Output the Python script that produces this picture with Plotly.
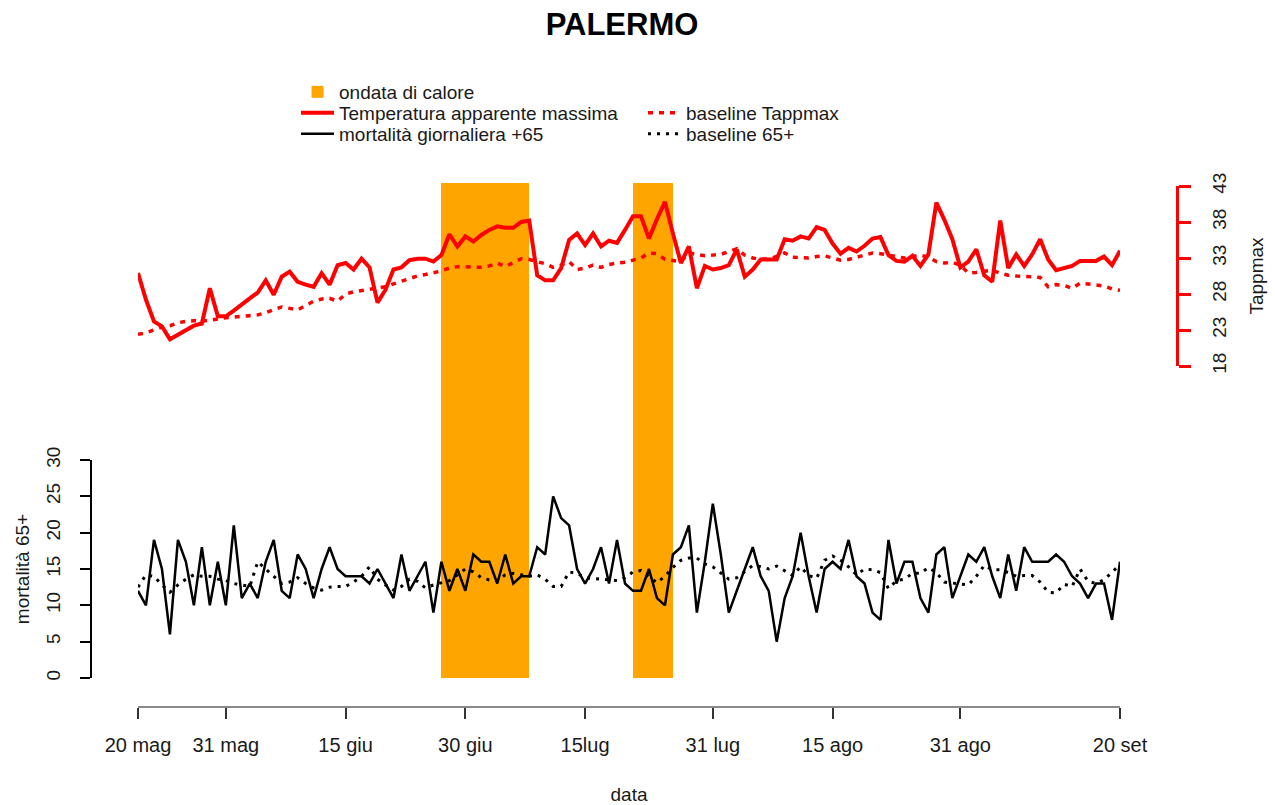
import pandas as pd
import plotly.graph_objects as go

# ---- data -------------------------------------------------------------
dates = pd.date_range("2023-05-20", "2023-09-20", freq="D")

# daily maximum apparent temperature (°C)
tapp_max = [
    30.9, 27.2, 24.2, 23.5, 21.7, 22.3, 22.9, 23.6, 23.9, 28.8,
    24.9, 24.9, 25.7, 26.6, 27.4, 28.2, 29.9, 27.9, 30.4, 31.1,
    29.7, 29.3, 29.0, 30.9, 29.3, 32.0, 32.3, 31.4, 32.9, 31.7,
    26.8, 28.6, 31.4, 31.7, 32.7, 32.9, 32.9, 32.5, 33.4, 36.3,
    34.6, 36.0, 35.3, 36.2, 36.9, 37.4, 37.2, 37.2, 38.0, 38.2,
    30.6, 29.9, 29.9, 31.6, 35.5, 36.4, 34.8, 36.4, 34.6, 35.4,
    35.1, 36.9, 38.8, 38.8, 35.7, 38.4, 40.8, 36.4, 32.3, 34.6,
    28.8, 31.9, 31.4, 31.6, 32.0, 34.2, 30.4, 31.4, 32.8, 32.8,
    32.8, 35.6, 35.4, 36.0, 35.7, 37.3, 36.9, 35.0, 33.6, 34.4,
    33.9, 34.7, 35.7, 35.9, 33.4, 32.6, 32.5, 33.3, 31.9, 33.5,
    40.7, 38.3, 35.6, 31.7, 32.5, 34.2, 30.6, 29.7, 38.2, 31.6,
    33.5, 31.9, 33.5, 35.6, 32.8, 31.3, 31.6, 31.9, 32.6, 32.6,
    32.6, 33.2, 32.0, 34.0,
]

# seasonal baseline of the apparent temperature
tapp_baseline = [
    22.4, 22.6, 23.0, 23.4, 23.6, 24.0, 24.2, 24.3, 24.2, 24.4,
    24.5, 24.7, 24.8, 24.9, 25.0, 25.1, 25.4, 25.8, 26.2, 26.0,
    25.8, 26.4, 27.0, 27.3, 27.4, 27.0, 28.0, 28.3, 28.5, 28.7,
    28.9, 29.0, 29.4, 29.8, 30.2, 30.5, 30.7, 30.9, 31.2, 31.6,
    31.8, 31.8, 31.7, 31.7, 31.9, 32.3, 31.8, 32.4, 32.9, 32.8,
    32.5, 32.2, 31.7, 32.0, 32.5, 31.4, 31.6, 32.0, 31.7, 32.1,
    32.3, 32.4, 32.7, 33.0, 33.7, 33.6, 32.8, 32.6, 32.5, 33.7,
    33.5, 33.3, 33.4, 33.5, 33.9, 34.3, 33.4, 33.0, 32.8, 32.9,
    33.2, 33.7, 33.1, 33.0, 33.0, 33.2, 33.3, 33.0, 32.7, 32.8,
    33.1, 33.3, 33.7, 33.6, 33.4, 33.1, 33.0, 33.2, 33.4, 33.1,
    32.5, 32.3, 32.4, 32.0, 30.9, 31.0, 31.2, 31.3, 30.9, 30.6,
    30.5, 30.5, 30.4, 30.3, 29.0, 29.3, 29.2, 28.8, 29.5, 29.4,
    29.2, 29.1, 28.7, 28.5,
]

# daily deaths, age 65 and over
mortality_65 = [
    12, 10, 19, 15, 6, 19, 16, 10, 18, 10,
    16, 10, 21, 11, 13, 11, 16, 19, 12, 11,
    17, 15, 11, 15, 18, 15, 14, 14, 14, 13,
    15, 13, 11, 17, 12, 14, 16, 9, 16, 12,
    15, 12, 17, 16, 16, 13, 17, 13, 14, 14,
    18, 17, 25, 22, 21, 15, 13, 15, 18, 13,
    19, 13, 12, 12, 15, 11, 10, 17, 18, 21,
    9, 16, 24, 17, 9, 12, 15, 18, 14, 12,
    5, 11, 14, 20, 14, 9, 15, 16, 15, 19,
    14, 13, 9, 8, 19, 13, 16, 16, 11, 9,
    17, 18, 11, 14, 17, 16, 18, 14, 11, 17,
    12, 18, 16, 16, 16, 17, 16, 14, 13, 11,
    13, 13, 8, 16,
]

# expected daily deaths, age 65 and over
mortality_baseline = [
    12.5, 14.2, 14.0, 12.8, 11.8, 12.8, 13.6, 14.2, 14.0, 14.0,
    13.6, 13.4, 13.0, 12.8, 12.6, 16.0, 15.0, 14.0, 13.0, 13.2,
    13.8, 13.0, 12.4, 12.1, 12.5, 12.6, 12.6, 13.2, 14.0, 15.3,
    13.6, 12.8, 12.1, 12.6, 13.6, 13.3, 12.4, 12.8, 13.1, 13.4,
    14.2, 15.0, 14.6, 13.8, 13.5, 13.4, 14.2, 14.4, 14.2, 14.0,
    14.2, 13.6, 12.6, 12.6, 14.6, 14.4, 13.8, 13.7, 13.6, 13.5,
    13.4, 13.8, 14.6, 14.8, 14.0, 13.1, 14.0, 15.2, 16.2, 16.5,
    16.5, 15.7, 15.3, 14.4, 13.6, 13.8, 14.6, 15.5, 15.3, 15.0,
    15.4, 14.8, 14.1, 15.3, 14.1, 13.7, 16.2, 16.8, 16.2, 15.3,
    14.2, 15.0, 14.9, 14.5, 12.3, 13.4, 13.6, 14.4, 14.4, 15.2,
    14.5, 13.2, 13.1, 13.0, 12.8, 14.0, 15.5, 14.9, 14.9, 14.5,
    14.0, 14.1, 14.1, 13.2, 11.8, 11.7, 12.9, 12.6, 15.0, 13.3,
    13.0, 13.5, 14.6, 15.6,
]

# heat-wave periods (start, end)
heatwave_start = ["2023-06-27", "2023-07-21"]
heatwave_end = ["2023-07-08", "2023-07-26"]

# x-axis ticks
tick_dates = ["2023-05-20", "2023-05-31", "2023-06-15", "2023-06-30",
              "2023-07-15", "2023-07-31", "2023-08-15", "2023-08-31",
              "2023-09-20"]
tick_labels = ["20 mag", "31 mag", "15 giu", "30 giu", "15lug",
               "31 lug", "15 ago", "31 ago", "20 set"]

# ---- figure -----------------------------------------------------------
W, H = 1275, 805
FONT = "Liberation Sans, Arial, Helvetica, sans-serif"
INK = "#1a1a1a"

hw_s = pd.to_datetime(heatwave_start)
hw_e = pd.to_datetime(heatwave_end)
hw_mid = hw_s + (hw_e - hw_s) / 2
hw_width = [(e - s).total_seconds() * 1000 for s, e in zip(hw_s, hw_e)]

fig = go.Figure()

fig.add_trace(go.Bar(
    x=hw_mid, y=[1] * len(hw_mid), base=0, width=hw_width,
    marker=dict(color="#FFA500", line=dict(width=0)),
    name="ondata di calore", yaxis="y", legend="legend", showlegend=True,
))
fig.add_trace(go.Scatter(
    x=dates, y=tapp_max, mode="lines", yaxis="y3",
    line=dict(color="#FF0000", width=4),
    name="Temperatura apparente massima", legend="legend2",
))
fig.add_trace(go.Scatter(
    x=dates, y=tapp_baseline, mode="lines", yaxis="y3",
    line=dict(color="#FF0000", width=3.5, dash="5px,6px"),
    name="baseline Tappmax", legend="legend2",
))
fig.add_trace(go.Scatter(
    x=dates, y=mortality_65, mode="lines", yaxis="y2",
    line=dict(color="#000000", width=2.5),
    name="mortalità giornaliera +65", legend="legend3",
))
fig.add_trace(go.Scatter(
    x=dates, y=mortality_baseline, mode="lines", yaxis="y2",
    line=dict(color="#000000", width=3, dash="3px,6px"),
    name="baseline 65+", legend="legend3",
))

# plotting region in pixels
L, R, T, B = 91, 98, 183, 98
pw, ph = W - L - R, H - T - B


def fx(px):
    return (px - L) / pw


def fy(py):
    return (H - B - py) / ph


legend_common = dict(
    xref="container", yref="container", xanchor="left", yanchor="middle",
    font=dict(family=FONT, size=19, color=INK), bgcolor="rgba(0,0,0,0)",
    itemwidth=33, tracegroupgap=0,
)
lx = 296 / W

fig.update_layout(
    width=W, height=H,
    margin=dict(l=L, r=R, t=T, b=B, autoexpand=False),
    paper_bgcolor="white", plot_bgcolor="rgba(0,0,0,0)",
    font=dict(family=FONT, size=19, color=INK),
    title=dict(text="<b>PALERMO</b>", font=dict(family=FONT, size=31, color="#000"),
               x=622 / W, xanchor="center", xref="container",
               y=1 - 24 / H, yanchor="middle", yref="container"),
    bargap=0, barmode="overlay",
    legend=dict(x=lx, y=1 - 92 / H, orientation="h", **legend_common),
    legend2=dict(x=lx, y=1 - 113 / H, orientation="h", entrywidth=299,
                 entrywidthmode="pixels", **legend_common),
    legend3=dict(x=lx, y=1 - 134 / H, orientation="h", entrywidth=299,
                 entrywidthmode="pixels", **legend_common),
    xaxis=dict(
        domain=[fx(138), fx(1120)], anchor="free", position=0,
        type="date", range=[dates[0], dates[-1]],
        tickmode="array", tickvals=tick_dates, ticktext=tick_labels,
        showline=True, linecolor="#8a8a8a", linewidth=2,
        ticks="outside", ticklen=11, tickwidth=1.5, tickcolor="#333",
        showgrid=False, zeroline=False, ticklabelstandoff=9, tickangle=0,
        tickfont=dict(family=FONT, size=20, color=INK),
        title=dict(text="data", font=dict(family=FONT, size=19, color=INK), standoff=37),
    ),
    # axis holding the heat-wave bands
    yaxis=dict(domain=[fy(678), 1], range=[0, 1], visible=False,
               anchor="free", position=0, fixedrange=True),
    # mortality axis (left)
    yaxis2=dict(
        domain=[fy(678), fy(460)], range=[0, 30], anchor="free", position=0,
        side="left", tickmode="array", tickvals=[0, 5, 10, 15, 20, 25, 30],
        showline=True, linecolor="#000", linewidth=2,
        ticks="outside", ticklen=10, tickwidth=2, tickcolor="#000",
        tickangle=-90, ticklabelstandoff=12,
        showgrid=False, zeroline=False,
        tickfont=dict(family=FONT, size=19, color=INK),
        title=dict(text="mortalità 65+", font=dict(family=FONT, size=19, color=INK), standoff=8),
    ),
    # apparent temperature axis (right)
    yaxis3=dict(
        domain=[fy(366), fy(186)], range=[18, 43], anchor="free", position=1,
        side="right", tickmode="array", tickvals=[18, 23, 28, 33, 38, 43],
        showline=True, linecolor="#FF0000", linewidth=3,
        ticks="outside", ticklen=12, tickwidth=3, tickcolor="#FF0000",
        tickangle=-90, ticklabelstandoff=12,
        showgrid=False, zeroline=False,
        tickfont=dict(family=FONT, size=19, color=INK),
        title=dict(text="Tappmax", font=dict(family=FONT, size=19, color=INK), standoff=20),
    ),
)

fig.write_html("out.html")
